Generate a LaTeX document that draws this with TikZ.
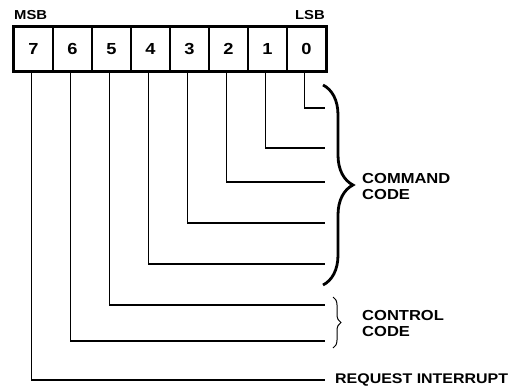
\documentclass[tikz,border=0pt]{standalone}
\usepackage{fontspec}
\setmainfont{Liberation Sans}[FakeStretch=1.14]
\usetikzlibrary{decorations.pathreplacing}

\begin{document}
\begin{tikzpicture}[x=1pt, y=-1pt,
  cell/.style={draw, line width=1.2pt, minimum width=39pt, minimum height=44pt,
    inner sep=0pt, font=\bfseries\fontsize{16}{16}\selectfont},
  wire/.style={line width=1.8pt},
  lbl/.style={font=\bfseries\fontsize{14.5}{16.5}\selectfont, align=left, inner sep=0pt}]
  \useasboundingbox (0,0) rectangle (516,391);
  % Register
  \foreach \b in {0,...,7} {
    \node[cell] (b\b) at ({33.5+39*(7-\b)},49) {\b};
  }
  \draw[line width=3.5pt] (b7.north west) rectangle (b0.south east);
  \node[lbl, font=\bfseries\fontsize{13}{13}\selectfont, anchor=south west] (msb) at (14,20) {MSB};
  \node[lbl, font=\bfseries\fontsize{13}{13}\selectfont, anchor=south east] (lsb) at (325,20) {LSB};
  % Bit lines
  \foreach \b/\y in {0/108,1/148,2/182,3/223,4/264,5/305,6/341} {
    \coordinate (e\b) at (325,\y);
    \draw[wire] ([xshift=-2pt]b\b.south) |- (e\b);
  }
  \node[lbl, font=\bfseries\fontsize{14}{16}\selectfont, anchor=west] (req) at (335,380) {REQUEST INTERRUPT};
  \draw[wire, shorten >=10pt] ([xshift=-2pt]b7.south) |- (req.west);
  % Braces
  \draw[decorate, decoration={brace, amplitude=30pt}, line width=2.8pt] (323,85) -- (323,285);
  \node[lbl, anchor=north west] (cmd) at (362,173) {COMMAND\\CODE};
  \draw[decorate, decoration={brace, amplitude=8pt}, line width=1pt] (333,297) -- (333,348);
  \node[lbl, anchor=north west] (ctl) at (362,310) {CONTROL\\CODE};
\end{tikzpicture}
\end{document}
